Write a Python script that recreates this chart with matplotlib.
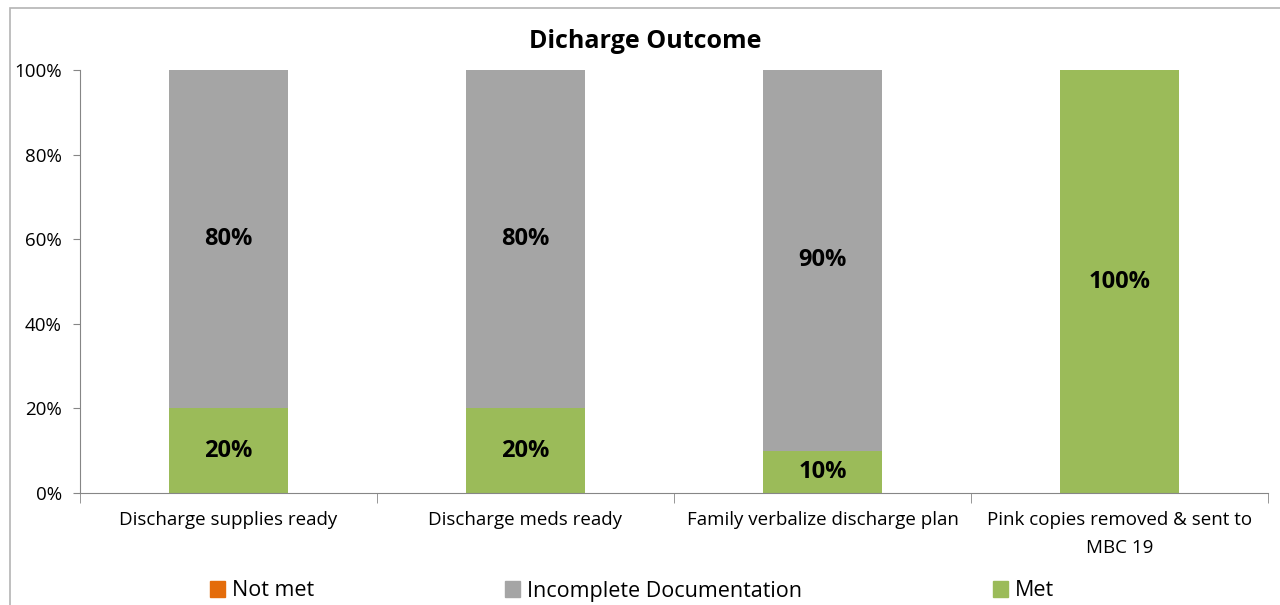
import matplotlib
matplotlib.use("Agg")
import matplotlib.pyplot as plt
from matplotlib.patches import Rectangle, Patch
from matplotlib.ticker import PercentFormatter

# chart data (percent)
categories = ["Discharge supplies ready", "Discharge meds ready",
              "Family verbalize discharge plan", "Pink copies removed & sent to\nMBC 19"]
not_met = [0, 0, 0, 0]
incomplete = [80, 80, 90, 0]
met = [20, 20, 10, 100]
series_names = ["Not met", "Incomplete Documentation", "Met"]
colors = ["#E46C0A", "#A5A5A5", "#9BBB59"]

plt.rcParams['font.family'] = ['Open Sans', 'DejaVu Sans']

fig = plt.figure(figsize=(12.8, 6.05), dpi=100)
ax = fig.add_axes([80/1280, 1 - 493/605, (1268 - 80)/1280, (493 - 70)/605])

# outer chart border (cut off at right / bottom like the original)
fig.patches.append(Rectangle((10/1280, -0.1), 1.2, 1.1 - 8/605, transform=fig.transFigure,
                             fill=False, edgecolor="#B4B4B4", linewidth=1.2))

x = list(range(len(categories)))
w = 0.4
# stacked: Met at bottom, then Incomplete, then Not met
ax.bar(x, met, w, color=colors[2], label=series_names[2])
ax.bar(x, incomplete, w, bottom=met, color=colors[1], label=series_names[1])
tops = [m + i for m, i in zip(met, incomplete)]
ax.bar(x, not_met, w, bottom=tops, color=colors[0], label=series_names[0])

for i in x:
    if met[i] > 0:
        ax.text(i, met[i] / 2, f"{met[i]}%", ha="center", va="center",
                fontsize=17, fontweight="bold")
    if incomplete[i] > 0:
        ax.text(i, met[i] + incomplete[i] / 2, f"{incomplete[i]}%", ha="center", va="center",
                fontsize=17, fontweight="bold")

ax.set_xlim(-0.5, 3.5)
ax.set_ylim(0, 100)
ax.yaxis.set_major_formatter(PercentFormatter(decimals=0))
ax.set_yticks([0, 20, 40, 60, 80, 100])
ax.set_xticks(x)
ax.set_xticklabels(categories, fontsize=13.5, linespacing=1.7)
ax.set_xticks([-0.5, 0.5, 1.5, 2.5, 3.5], minor=True)
ax.tick_params(axis="x", which="major", length=0, pad=13)
ax.tick_params(axis="x", which="minor", length=7, color="#868686")
ax.tick_params(axis="y", length=5, color="#868686", labelsize=13.5, pad=8)
for s in ["top", "right"]:
    ax.spines[s].set_visible(False)
for s in ["left", "bottom"]:
    ax.spines[s].set_color("#868686")

fig.text(645/1280, 1 - 42/605, "Dicharge Outcome", fontsize=18, fontweight="bold",
         ha="center", va="center")

handles = [Patch(color=c) for c in colors]
fig.legend(handles, series_names, loc="center", bbox_to_anchor=(632/1280, 1 - 591/605),
           ncol=3, frameon=False, fontsize=15.5, handlelength=0.7, handleheight=0.7,
           handletextpad=0.3, columnspacing=8.9)

fig.savefig("out.png", dpi=100)
